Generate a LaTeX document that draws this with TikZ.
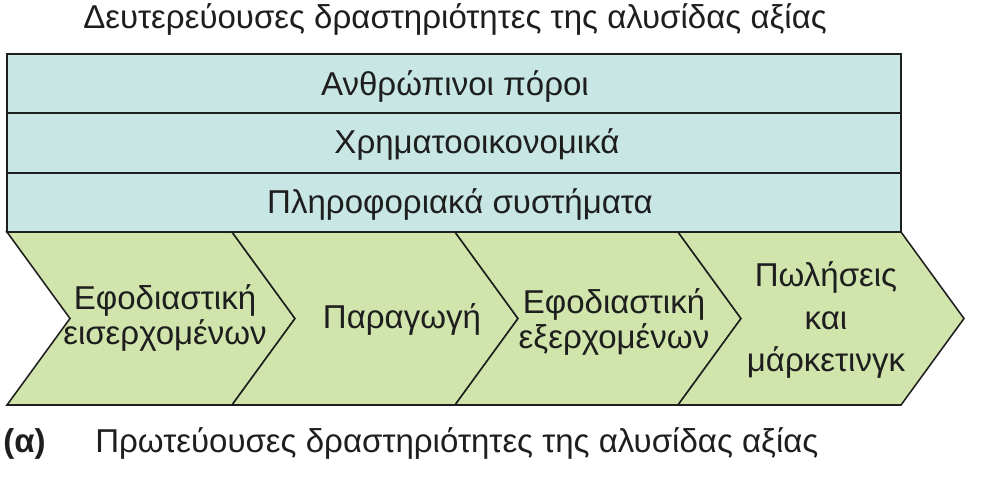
\documentclass[tikz,border=0pt]{standalone}
\usepackage{fontspec}
\setmainfont{Liberation Sans}
\definecolor{supportfill}{RGB}{199,230,228}
\definecolor{primaryfill}{RGB}{209,228,172}
\definecolor{inkgray}{RGB}{30,30,30}

\begin{document}
\begin{tikzpicture}[x=0.025cm, y=-0.025cm,
  every node/.style={font=\fontsize{23.5}{25}\selectfont, text=inkgray, inner sep=0pt},
  supportbox/.style={draw=inkgray, line width=1.3pt, fill=supportfill},
  primarybox/.style={draw=inkgray, line width=1.1pt, fill=primaryfill, line join=miter},
  chevtext/.style={align=center}]
  \useasboundingbox (0, 0) rectangle (989, 496);

  \node[anchor=base west] (supporttitle) at (83, 28) {Δευτερεύουσες δραστηριότητες της αλυσίδας αξίας};

  \draw[supportbox] (7, 54) rectangle (901, 113);
  \draw[supportbox] (7, 113) rectangle (901, 173);
  \draw[supportbox] (7, 173) rectangle (901, 232);

  \foreach \xl/\xr in {7/232, 232/455, 455/678, 678/901}
    \draw[primarybox] (\xl, 232) -- (\xr, 232) -- (\xr+63, 318.5) -- (\xr, 405)
      -- (\xl, 405) -- (\xl+63, 318.5) -- cycle;

  \node[anchor=base] (hr) at (455, 95) {Ανθρώπινοι πόροι};
  \node[anchor=base] (finance) at (477, 153) {Χρηματοοικονομικά};
  \node[anchor=base] (infosys) at (460, 213) {Πληροφοριακά συστήματα};

  \node[chevtext] (inbound) at (165, 318) {Εφοδιαστική\\εισερχομένων};
  \node (operations) at (402, 319) {Παραγωγή};
  \node[chevtext] (outbound) at (614, 322) {Εφοδιαστική\\εξερχομένων};
  \node[chevtext, font=\fontsize{23.5}{30}\selectfont] (sales) at (826, 320) {Πωλήσεις\\και\\μάρκετινγκ};

  \node[anchor=base west, font=\fontsize{23.5}{25}\bfseries] (label) at (3, 452) {(α)};
  \node[anchor=base west] (primarytitle) at (95, 452) {Πρωτεύουσες δραστηριότητες της αλυσίδας αξίας};
\end{tikzpicture}
\end{document}
